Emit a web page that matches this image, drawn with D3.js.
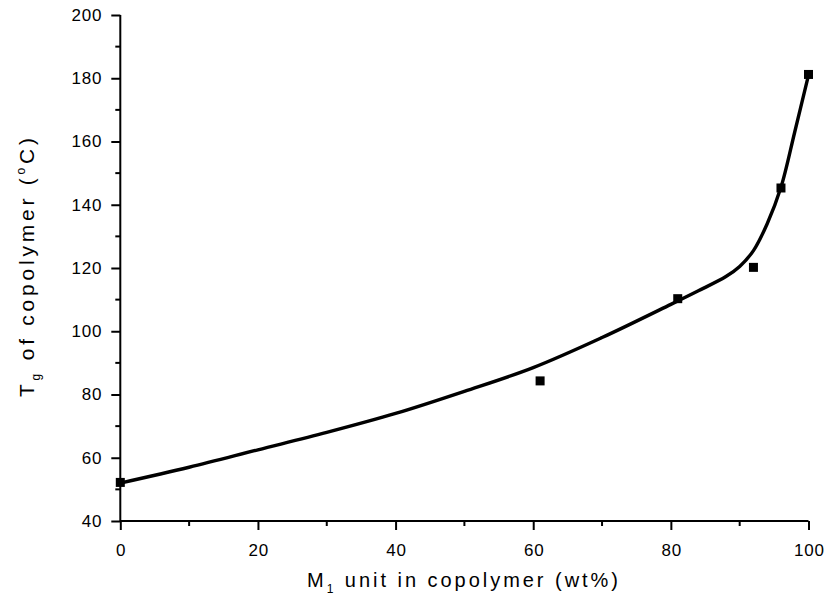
<!DOCTYPE html>
<html><head><meta charset="utf-8">
<script src="https://cdn.jsdelivr.net/npm/d3@7/dist/d3.min.js"></script>
<style>body{margin:0;background:#fff}svg{display:block}text{font-family:"Liberation Sans",Arial,sans-serif;fill:#000}</style>
</head><body><svg id="c" width="828" height="607"></svg>
<script>
const pointX = [0, 61, 81, 92, 96, 100];
const pointY = [52.2, 84.3, 110.3, 120.2, 145.3, 181.2];
const curveX = [0, 10, 20, 30, 40, 50, 60, 70, 80, 84, 88, 90, 92, 94, 96, 98, 100];
const curveY = [52, 57, 62.5, 68, 74, 81, 88.5, 98, 108.5, 112.8, 117.3, 120.5, 125.5, 134, 145.5, 163, 181];
const xTicks = [0, 20, 40, 60, 80, 100];
const yTicks = [40, 60, 80, 100, 120, 140, 160, 180, 200];
const xMinor = [10, 30, 50, 70, 90];
const yMinor = [50, 70, 90, 110, 130, 150, 170, 190];

const svg = d3.select("#c");
const x = d3.scaleLinear().domain([0, 100]).range([120.3, 808.5]);
const y = d3.scaleLinear().domain([40, 200]).range([521, 15]);

const g = svg.append("g");
const xAxis = g.append("g").attr("transform", "translate(0,521)")
  .call(d3.axisBottom(x).tickValues(xTicks).tickSize(9).tickPadding(14).tickFormat(d3.format("d")));
xAxis.append("g").selectAll("line").data(xMinor).join("line")
  .attr("x1", d => x(d)).attr("x2", d => x(d)).attr("y1", 0).attr("y2", 5);
const yAxis = g.append("g").attr("transform", "translate(120.3,0)")
  .call(d3.axisLeft(y).tickValues(yTicks).tickSize(9).tickPadding(9).tickFormat(d3.format("d")));
yAxis.append("g").selectAll("line").data(yMinor).join("line")
  .attr("x1", 0).attr("x2", -5).attr("y1", d => y(d)).attr("y2", d => y(d));
[xAxis, yAxis].forEach(a => {
  a.select(".domain").attr("stroke", "#000").attr("stroke-width", 2);
  a.selectAll("line").attr("stroke", "#000").attr("stroke-width", 2);
  a.selectAll("text").attr("font-size", 17).attr("letter-spacing", "0.8px")
    .attr("font-family", "Liberation Sans, Arial, sans-serif").attr("fill", "#000");
});
xAxis.selectAll(".tick text").attr("dx", "0.4px");
xAxis.select(".domain").attr("d", `M${x(0)},0H${x(100)}`);
yAxis.select(".domain").attr("d", `M0,${y(40)}V${y(200)}`);

const curveData = curveX.map((d, i) => [d, curveY[i]]);
g.append("path").datum(curveData)
  .attr("fill", "none").attr("stroke", "#000").attr("stroke-width", 3.4)
  .attr("d", d3.line().x(d => x(d[0])).y(d => y(d[1])).curve(d3.curveCatmullRom.alpha(0.5)));

const pts = pointX.map((d, i) => [d, pointY[i]]);
g.selectAll("rect.pt").data(pts).join("rect").attr("class", "pt")
  .attr("x", d => x(d[0]) - 4.5).attr("y", d => y(d[1]) - 4.5)
  .attr("width", 9).attr("height", 9).attr("fill", "#000");

function fitSpacing(t, target) {
  t.attr("letter-spacing", "0px");
  const n = t.text().length;
  const w = t.node().getComputedTextLength();
  t.attr("letter-spacing", ((target - w) / (n - 1)) + "px");
}

const xt = svg.append("text").attr("x", 307).attr("y", 587).attr("font-size", 20);
xt.append("tspan").text("M");
xt.append("tspan").attr("font-size", 12).attr("dy", 6).text("1");
xt.append("tspan").attr("dy", -6).text(" unit in copolymer (wt%)");
fitSpacing(xt, 311);

const yt = svg.append("text").attr("transform", "translate(34,397) rotate(-90)")
  .attr("font-size", 21);
yt.append("tspan").text("T");
yt.append("tspan").attr("font-size", 12).attr("dy", 6).text("g");
yt.append("tspan").attr("dy", -6).text(" of copolymer (");
yt.append("tspan").attr("font-size", 12).attr("dy", -9).text("o");
yt.append("tspan").attr("dy", 9).text("C)");
fitSpacing(yt, 259);
</script></body></html>
